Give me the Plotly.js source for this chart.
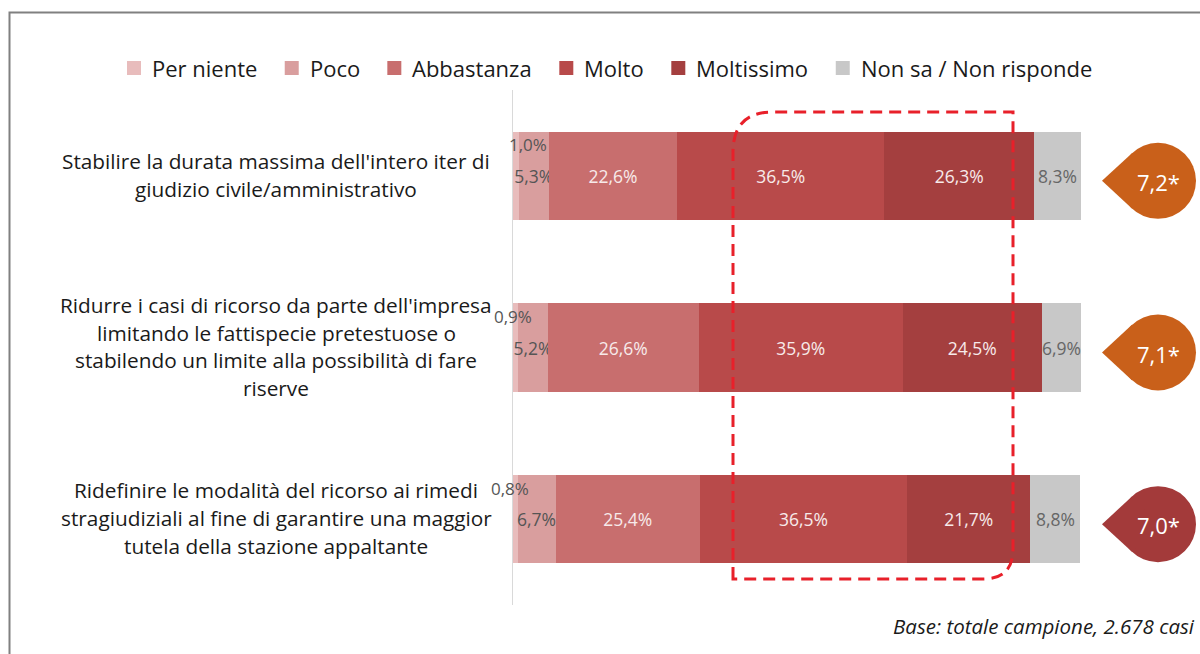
<!DOCTYPE html>
<html>
<head>
<meta charset="utf-8">
<script src="https://cdn.plot.ly/plotly-3.0.1.min.js"></script>
<style>html,body{margin:0;padding:0;background:#fff;}#chart{width:1200px;height:654px;}</style>
</head>
<body>
<div id="chart"></div>
<script>
// ---- data ----
const categories = [
  "Stabilire la durata massima dell'intero iter di<br>giudizio civile/amministrativo",
  "Ridurre i casi di ricorso da parte dell'impresa<br>limitando le fattispecie pretestuose o<br>stabilendo un limite alla possibilità di fare<br>riserve",
  "Ridefinire le modalità del ricorso ai rimedi<br>stragiudiziali al fine di garantire una maggior<br>tutela della stazione appaltante"
];
const seriesNames = ["Per niente", "Poco", "Abbastanza", "Molto", "Moltissimo", "Non sa / Non risponde"];
const perNiente  = [1.0, 0.9, 0.8];
const poco       = [5.3, 5.2, 6.7];
const abbastanza = [22.6, 26.6, 25.4];
const molto      = [36.5, 35.9, 36.5];
const moltissimo = [26.3, 24.5, 21.7];
const nonSa      = [8.3, 6.9, 8.8];
const scores     = [7.2, 7.1, 7.0];
const note = "Base: totale campione, 2.678 casi";

// ---- styles ----
const FONT = "Open Sans, Noto Sans, sans-serif";
const colors = ["#e8bcbc", "#d99e9e", "#c86e6e", "#b84a4a", "#a43f3f", "#c8c8c8"];
const textColors = ["#555555", "#555555", "#f7eaea", "#f7eaea", "#f7eaea", "#666666"];
const badgeColors = ["#c9601a", "#c9601a", "#a33a3a"];

const fmt = v => v.toFixed(1).replace('.', ',') + '%';
const allSeries = [perNiente, poco, abbastanza, molto, moltissimo, nonSa];

// plot area in pixels
const L = 513, R = 1081, T = 90, B = 605, W = 1200, H = 654;
const fx = px => (px - L) / (R - L);
const fy = py => (B - py) / (B - T);

const traces = allSeries.map((vals, i) => ({
  type: 'bar',
  orientation: 'h',
  name: seriesNames[i],
  x: vals,
  y: categories,
  marker: {color: colors[i], line: {width: 0}},
  text: vals.map(fmt),
  textposition: i === 0 ? 'none' : 'inside',
  insidetextanchor: 'middle',
  constraintext: 'none',
  textangle: 0,
  textfont: {family: FONT, size: 17.5, color: textColors[i]},
  hoverinfo: 'skip',
  showlegend: false
}));

const annotations = [];
const shapes = [];
const rowH = (B - T) / categories.length;

// ---- manual legend ----
const LEG_SIZE = 22;
const ctx = document.createElement('canvas').getContext('2d');
ctx.font = LEG_SIZE + "px 'Open Sans'";
const tws = seriesNames.map(s => ctx.measureText(s).width);
const SQ = 14, SQGAP = 9, legL = 127, legR = 1090, legY = 68;
const used = tws.reduce((a, b) => a + b, 0) + seriesNames.length * (SQ + SQGAP);
const gap = (legR - legL - used) / (seriesNames.length - 1);
let cur = legL;
seriesNames.forEach((s, i) => {
  shapes.push({
    type: 'rect', xref: 'paper', yref: 'paper',
    x0: fx(cur), x1: fx(cur + SQ), y0: fy(legY + SQ / 2), y1: fy(legY - SQ / 2),
    fillcolor: colors[i], line: {width: 0}
  });
  annotations.push({
    xref: 'paper', yref: 'paper', x: fx(cur + SQ + SQGAP), y: fy(legY),
    xanchor: 'left', yanchor: 'middle', showarrow: false,
    text: s, font: {family: FONT, size: LEG_SIZE, color: '#1a1a1a'}
  });
  cur += SQ + SQGAP + tws[i] + gap;
});

categories.forEach((cat, r) => {
  // category label lines
  const lines = cat.split('<br>');
  const n = lines.length;
  lines.forEach((ln, k) => {
    annotations.push({
      xref: 'paper', yref: 'y', x: fx(276), y: cat,
      yshift: -((k - (n - 1) / 2) * 27.7) + 1,
      xanchor: 'center', yanchor: 'middle', showarrow: false,
      text: ln, font: {family: FONT, size: 20.8, color: '#1a1a1a'}
    });
  });
  // Per niente label (outside, top-left)
  annotations.push({
    xref: 'x', yref: 'y', x: perNiente[r], y: cat,
    yshift: 31, xshift: [9, -5, -8][r],
    xanchor: 'center', yanchor: 'middle', showarrow: false,
    text: fmt(perNiente[r]), font: {family: FONT, size: 17, color: '#555555'}
  });
  // badge
  const cy = T + (r + 0.5) * rowH + 5;
  const cx = 1158, rad = 38, tipX = 1102;
  const d = cx - tipX;
  const th = Math.acos(rad / d);
  const tx = cx - rad * Math.cos(th), ty = rad * Math.sin(th);
  shapes.push({
    type: 'circle', xref: 'paper', yref: 'paper',
    x0: fx(cx - rad), x1: fx(cx + rad), y0: fy(cy + rad), y1: fy(cy - rad),
    fillcolor: badgeColors[r], line: {width: 0}, layer: 'above'
  });
  shapes.push({
    type: 'path', xref: 'paper', yref: 'paper',
    path: `M ${fx(tipX)},${fy(cy)} L ${fx(tx)},${fy(cy - ty)} L ${fx(cx)},${fy(cy)} L ${fx(tx)},${fy(cy + ty)} Z`,
    fillcolor: badgeColors[r], line: {width: 0}, layer: 'above'
  });
  annotations.push({
    xref: 'paper', yref: 'paper', x: fx(cx), y: fy(cy + 1),
    xanchor: 'center', yanchor: 'middle', showarrow: false,
    text: scores[r].toFixed(1).replace('.', ',') + '*',
    font: {family: FONT, size: 22, color: '#ffffff'}
  });
});

// note
annotations.push({
  xref: 'paper', yref: 'paper', x: fx(1197), y: fy(626),
  xanchor: 'right', yanchor: 'middle', showarrow: false,
  text: '<i>' + note + '</i>', font: {family: FONT, size: 20.5, color: '#1a1a1a'}
});

// dashed highlight frame
const p = (x, y) => `${fx(x)},${fy(y)}`;
shapes.push({
  type: 'path', xref: 'paper', yref: 'paper', layer: 'above',
  path: `M ${p(733, 579)} L ${p(733, 152)} Q ${p(733, 112)} ${p(773, 112)} L ${p(1013, 112)} L ${p(1013, 549)} Q ${p(1013, 579)} ${p(983, 579)} Z`,
  line: {color: '#e8202a', width: 3, dash: '12px,7px'}, fillcolor: 'rgba(0,0,0,0)'
});
// outer border (top and left)
shapes.push({
  type: 'path', xref: 'paper', yref: 'paper', layer: 'above',
  path: `M ${p(9.5, 660)} L ${p(9.5, 12.5)} L ${p(1210, 12.5)}`,
  line: {color: '#808080', width: 2}
});

const layout = {
  width: W, height: H,
  margin: {l: L, r: W - R, t: T, b: H - B, pad: 0},
  paper_bgcolor: '#ffffff', plot_bgcolor: '#ffffff',
  barmode: 'stack',
  bargap: 0.487,
  showlegend: false,
  xaxis: {range: [0, 100], visible: false, fixedrange: true},
  yaxis: {
    type: 'category', autorange: false, range: [categories.length - 0.5, -0.5],
    showticklabels: false, ticks: '', showgrid: false, zeroline: false,
    showline: true, linecolor: '#d9d9d9', linewidth: 1, fixedrange: true
  },
  annotations: annotations,
  shapes: shapes,
  font: {family: FONT}
};

Plotly.newPlot('chart', traces, layout, {displayModeBar: false, staticPlot: true});
</script>
</body>
</html>
